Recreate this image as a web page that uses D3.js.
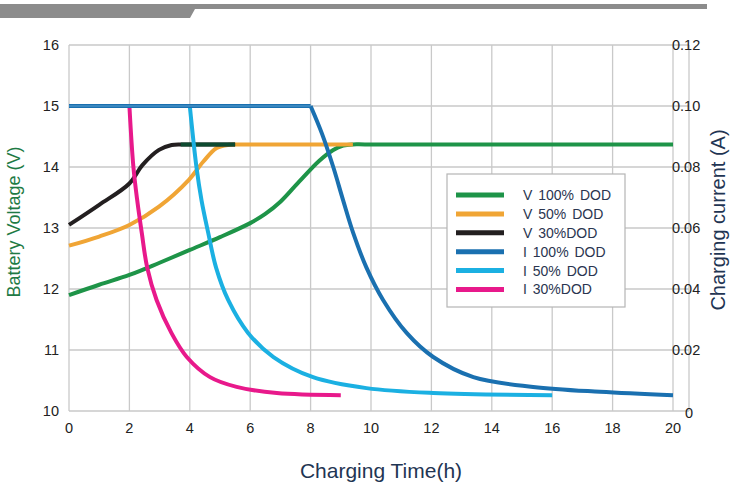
<!DOCTYPE html>
<html><head><meta charset="utf-8">
<script src="https://cdn.jsdelivr.net/npm/d3@7"></script>
<style>body{margin:0;background:#fff}svg{display:block;font-family:"Liberation Sans",Arial,sans-serif}</style>
</head><body><svg id="c" width="731" height="488"></svg>
<script>
const xTicks = [0,2,4,6,8,10,12,14,16,18,20];
const vTicks = [10,11,12,13,14,15,16];
const iTicks = [0,0.02,0.04,0.06,0.08,0.10,0.12];
const iTickLabels = ["0","0.02","0.04","0.06","0.08","0.10","0.12"];

const v100 = [[0,11.9],[1,12.07],[2,12.23],[3,12.43],[4,12.64],[5,12.85],[6,13.08],[6.5,13.23],[7,13.43],[7.62,13.76],[8.28,14.1],[8.75,14.28],[9.08,14.35],[9.4,14.37],[9.8,14.37],[20,14.37]];
const v50 = [[0,12.71],[1,12.86],[2,13.05],[2.98,13.35],[3.97,13.79],[4.45,14.09],[4.89,14.31],[5.3,14.365],[5.5,14.37],[5.9,14.37],[9.4,14.37]];
const v30 = [[0,13.05],[1,13.38],[2,13.73],[2.43,14.03],[2.98,14.28],[3.4,14.36],[3.7,14.37],[4.1,14.37],[5.5,14.37]];
const i100 = [[8,0.1],[8.37,0.0911],[8.75,0.080],[9.08,0.069],[9.41,0.0584],[9.85,0.047],[10.4,0.0364],[11.18,0.0256],[12.06,0.0177],[13.39,0.0111],[15.37,0.0079],[17.58,0.0063],[20,0.0052]];
const i50 = [[4,0.1],[4.22,0.080],[4.39,0.069],[4.61,0.0584],[4.87,0.047],[5.27,0.0364],[5.93,0.0256],[6.77,0.0177],[8.08,0.0111],[9.85,0.0075],[12.06,0.0059],[16,0.0052]];
const i30 = [[2,0.1],[2.13,0.0803],[2.26,0.069],[2.41,0.0584],[2.59,0.047],[2.9,0.0364],[3.39,0.0256],[3.9,0.0177],[4.67,0.0111],[5.55,0.0079],[6.88,0.0059],[9,0.0052]];
const legendNames = ["V 100% DOD","V 50% DOD","V 30%DOD","I 100% DOD","I 50% DOD","I 30%DOD"];
const colors = ["#1e9448","#f0a535","#231f20","#1a70b0","#1bb0e2","#e8198b"];

const svg = d3.select("#c");
const x = d3.scaleLinear().domain([0,20]).range([69,673]);
const yV = d3.scaleLinear().domain([10,16]).range([411,45]);
const yI = d3.scaleLinear().domain([0,0.12]).range([411,45]);

// banner
svg.append("path").attr("d","M0,4 L707,4 L707,9 L195,9 L190,18 L0,18 Z").attr("fill","#8c8c8c");

const grid = svg.append("g").attr("stroke","#c9c9c9").attr("stroke-width",1.3);
xTicks.forEach(t=>grid.append("line").attr("x1",x(t)).attr("x2",x(t)).attr("y1",45).attr("y2",411));
vTicks.forEach(t=>grid.append("line").attr("x1",69).attr("x2",689).attr("y1",yV(t)).attr("y2",yV(t)));
grid.append("line").attr("x1",689).attr("x2",689).attr("y1",45).attr("y2",411);

// tick labels
const tl = svg.append("g").attr("font-size",14.5).attr("fill","#222");
vTicks.forEach(t=>tl.append("text").attr("x",59).attr("y",yV(t)).attr("dy","0.35em").attr("text-anchor","end").text(t));
iTicks.forEach((t,k)=>{
  if(t===0) tl.append("text").attr("x",689).attr("y",yI(t)+2).attr("dy","0.35em").attr("text-anchor","middle").text(iTickLabels[k]);
  else tl.append("text").attr("x",672).attr("y",yI(t)).attr("dy","0.35em").text(iTickLabels[k]);
});
xTicks.forEach(t=>tl.append("text").attr("x",x(t)).attr("y",433).attr("text-anchor","middle").text(t));

svg.append("text").attr("transform","translate(20,222) rotate(-90)").attr("text-anchor","middle").attr("font-size",18).attr("fill","#1e7a44").text("Battery Voltage (V)");
svg.append("text").attr("transform","translate(725,220) rotate(-90)").attr("text-anchor","middle").attr("font-size",20).attr("fill","#1f3553").text("Charging current (A)");
svg.append("text").attr("x",381).attr("y",478).attr("text-anchor","middle").attr("font-size",21).attr("fill","#1f3553").text("Charging Time(h)");

const cv = d3.curveCatmullRom.alpha(0.5);
const lineV = d3.line().x(d=>x(d[0])).y(d=>yV(d[1])).curve(cv);
const lineI = d3.line().x(d=>x(d[0])).y(d=>yI(d[1])).curve(cv);
const g = svg.append("g").attr("fill","none").attr("stroke-width",4);
g.append("path").attr("d",lineV(v100)).attr("stroke",colors[0]);
g.append("path").attr("d",lineV(v50)).attr("stroke",colors[1]);
g.append("path").attr("d",lineV(v30)).attr("stroke",colors[2]);
// overlapping plateau of V 30% drawn darker green as in source
g.append("path").attr("d",lineV(v30.filter(d=>d[0]>=3.7))).attr("stroke","#0d4a30");
g.append("path").attr("d",lineI(i30)).attr("stroke",colors[5]);
g.append("path").attr("d",lineI(i50)).attr("stroke",colors[4]);
g.append("path").attr("d",lineI(i100)).attr("stroke",colors[3]);
// flat constant-current segment
g.append("line").attr("x1",x(0)).attr("x2",x(8)).attr("y1",yI(0.1)).attr("y2",yI(0.1)).attr("stroke",colors[3]).attr("stroke-width",4);
g.append("line").attr("x1",x(0)).attr("x2",x(8)).attr("y1",yI(0.1)).attr("y2",yI(0.1)).attr("stroke","#5aa0d0").attr("stroke-width",1.2);

// legend
const lg = svg.append("g");
lg.append("rect").attr("x",447).attr("y",174).attr("width",178).attr("height",133).attr("fill","#fff").attr("stroke","#b5b5b5").attr("stroke-width",1.2);
legendNames.forEach((n,k)=>{
  const yy = 195 + k*18.9;
  lg.append("line").attr("x1",456).attr("x2",504).attr("y1",yy).attr("y2",yy).attr("stroke",colors[k]).attr("stroke-width",5);
  lg.append("text").attr("x",523).attr("y",yy).attr("dy","0.35em").attr("font-size",14).attr("word-spacing",2).attr("fill","#2a3550").text(n);
});
</script></body></html>
